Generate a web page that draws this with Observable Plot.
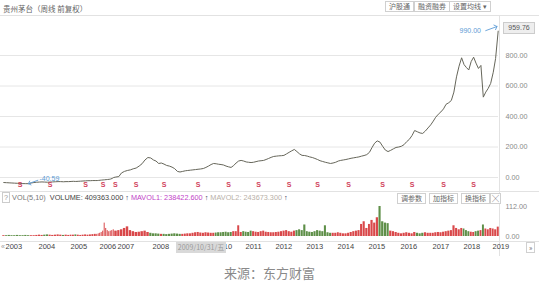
<!DOCTYPE html>
<html><head><meta charset="utf-8">
<script src="https://cdn.jsdelivr.net/npm/d3@7"></script>
<script src="https://cdn.jsdelivr.net/npm/@observablehq/plot@0.6"></script>
<style>
body{margin:0;background:#fff;font-family:"Liberation Sans","Noto Sans CJK SC",sans-serif;}
#wrap{position:relative;width:539px;height:287px;overflow:hidden;background:#fff;}
.abs{position:absolute;white-space:nowrap;}
.btn{position:absolute;border:1px solid #d0d0d0;background:#fff;color:#666;font-size:7px;line-height:9px;height:9px;padding:0 3px;font-family:"Noto Sans CJK SC",sans-serif;}
.hl{position:absolute;height:1px;background:#e2e2e2;}
.vl{position:absolute;width:1px;background:#e2e2e2;}
#price,#vol{position:absolute;left:0;}
#price{top:16px;} #vol{top:200px;}
#volinfo{position:absolute;left:2px;top:193px;font-size:7.3px;line-height:10px;color:#555;}
#tip{position:absolute;left:176px;top:242px;width:50px;height:11px;background:#d9d9d9;color:#9a9a9a;font-size:7px;line-height:11px;text-align:center;font-family:"Noto Sans CJK SC",sans-serif;}
#caption{position:absolute;left:0;width:539px;top:263px;text-align:center;font-size:13px;color:#8a8a8a;font-family:"Noto Sans CJK SC",sans-serif;}
#lastbox{position:absolute;left:503px;width:30px;height:10px;background:#eee;border:1px solid #ccc;color:#555;font-size:7px;line-height:10px;text-align:center;}
</style></head><body>
<div id="wrap">
  <div class="abs" style="left:3px;top:3px;font-size:7.5px;color:#666;font-family:'Noto Sans CJK SC',sans-serif;">贵州茅台（周线 前复权）</div>
  <div class="btn" style="left:385px;top:1px;">沪股通</div>
  <div class="btn" style="left:414px;top:1px;">融资融券</div>
  <div class="btn" style="left:449px;top:1px;">设置均线 ▾</div>
  <div class="hl" style="left:0;top:15px;width:539px;"></div>
  <div class="hl" style="left:0;top:191px;width:539px;"></div>
  <div class="hl" style="left:0;top:241px;width:539px;"></div>
  <div class="vl" style="left:499px;top:15px;height:241px;"></div>
  <div id="price"></div>
  <div id="vol"></div>
  <div id="volinfo"><span style="border:1px solid #ccc;color:#999;padding:0 1px;">?</span> <span style="color:#777">VOL(5,10)</span>&nbsp; <span style="color:#444">VOLUME: 409363.000</span> <span style="color:#335">↑</span> <span style="color:#c23fc8">MAVOL1: 238422.600</span> <span style="color:#335">↑</span> <span style="color:#b8b0a8">MAVOL2: 243673.300</span> <span style="color:#335">↑</span></div>
  <div class="btn" style="left:397px;top:193px;">调参数</div>
  <div class="btn" style="left:429px;top:193px;">加指标</div>
  <div class="btn" style="left:461px;top:193px;">换指标</div>
  <div class="btn" style="left:490px;top:193px;padding:0 1px;">╳</div>
  <div class="abs" style="left:1px;top:243px;font-size:7px;color:#999;">«</div>
  <div class="btn" style="left:526px;top:242px;padding:0 2px;">»</div>
  <div id="tip">2009/10/31/五</div>
  <div id="lastbox">959.76</div>
  <div id="caption">来源：东方财富</div>
</div>
<script>
// ---- data ----
const years = [2003,2004,2005,2006,2007,2008,2009,2010,2011,2012,2013,2014,2015,2016,2017,2018,2019];
// monthly close (forward-adjusted), Jan 2003 .. Apr 2019
const close = [
  -33,-34,-35,-36,-37,-38,-39,-40,-40.3,-40.59,-36,-33,          // 2003
  -31,-30,-29,-30,-31,-30,-29,-28,-27,-27,-28,-27,               // 2004
  -27,-26,-25,-26,-25,-24,-23,-22,-21,-21,-20,-20,               // 2005
  -20,-19,-18,-17,-16,-15,-14,-13,-12,-10,-6,0,                  // 2006
  3,6,30,40,46,50,57,62,75,90,115,131,                           // 2007
  128,115,108,92,95,88,79,75,68,58,40,36,                        // 2008
  40,44,46,48,50,52,54,56,59,66,75,85,                           // 2009
  92,90,87,85,82,75,70,66,78,95,108,112,                         // 2010
  108,102,100,98,100,104,108,110,112,118,125,132,                // 2011
  138,140,142,143,145,155,165,175,184,170,155,145,               // 2012
  144,140,135,131,125,118,110,105,100,96,92,95,                  // 2013
  100,108,112,115,118,122,126,129,132,135,140,144,               // 2014
  150,165,195,225,240,232,205,180,170,178,188,197,               // 2015
  200,205,215,235,250,275,308,300,292,289,305,325,               // 2016
  345,370,395,415,430,450,480,490,505,560,660,730,               // 2017
  785,740,722,705,760,789,750,715,735,527,560,584,               // 2018
  617,690,780,959.76                                             // 2019
];
// weekly-volume level per month (scale 0..112)
const volume = [
  3,3,4,3,3,4,3,3,4,3,3,3,
  4,5,4,5,6,5,4,5,6,5,4,5,
  4,5,5,6,5,4,5,6,5,6,7,8,
  8,10,12,15,20,50,30,22,18,20,22,25,
  20,22,25,30,36,22,18,15,16,18,20,15,
  12,10,10,9,8,8,7,8,9,10,9,8,
  8,9,10,10,12,14,15,13,12,14,13,12,
  12,13,14,14,15,16,14,15,18,18,40,15,
  18,16,15,20,18,16,15,18,20,16,15,14,
  14,15,16,18,20,22,18,16,20,22,25,22,
  43,18,16,15,18,22,20,18,40,14,12,12,
  12,14,12,10,10,12,15,18,20,22,45,55,
  30,45,60,50,70,112,55,50,48,20,18,15,
  12,10,12,14,12,10,15,12,10,12,14,12,
  12,12,14,15,14,16,18,20,22,40,30,25,
  30,28,22,18,16,15,18,20,22,43,28,25,
  30,28,25,35
];
const priceTicks = [0,200,400,600,800];
const volTicks = [0,112];
const dividendDates = ["2003-07-15","2004-06-15","2005-08-15","2006-05-15","2007-01-10","2007-08-15","2008-06-15","2009-07-15","2010-07-15","2011-07-15","2012-07-15","2013-06-15","2014-06-15","2015-07-15","2016-06-15","2017-06-15","2018-06-15"];
const lowMark = {date: "2003-10-15", value: -40.59, label: "-40.59"};
const highMark = {date: "2019-04-01", value: 990, label: "990.00"};
const lastClose = 959.76;

// ---- scale configuration (x: year breakpoints as laid out in the source axis) ----
const xBreakDates = [...years.map(y => new Date(Date.UTC(y,0,1))), new Date(Date.UTC(2019,4,1))];
const xBreakPx = [2,35,67,96,114,149,181,212,242,272,303,334,365,397,429,460,489,499];

const months = d3.utcMonth.range(new Date(Date.UTC(2003,0,1)), new Date(Date.UTC(2019,4,1)));
const rows = months.map((m,i) => ({
  start: m, mid: d3.utcDay.offset(m,14), end: d3.utcMonth.offset(m,1),
  close: close[i], volume: volume[i], up: i === 0 || close[i] >= close[i-1]
}));
const W = 539;
const font = "Liberation Sans, sans-serif";
const xOpt = {type: "utc", domain: xBreakDates, range: xBreakPx, axis: null};

const price = Plot.plot({
  width: W, height: 176, marginLeft: 0, marginRight: 41, marginTop: 0, marginBottom: 0,
  style: {background: "transparent", fontFamily: font, overflow: "visible"},
  x: xOpt,
  y: {domain: [0,800], range: [161,39], axis: null},
  marks: [
    Plot.gridY(priceTicks, {stroke: "#e6e6e6", strokeOpacity: 1}),
    Plot.axisY(priceTicks, {anchor: "right", label: null, tickSize: 0, tickPadding: 7, fontSize: 7.2, color: "#8a8a8a", tickFormat: d => d.toFixed(2)}),
    Plot.line(rows, {x: "mid", y: "close", stroke: "#66665a", strokeWidth: 1}),
    Plot.text(dividendDates, {x: d => new Date(d), frameAnchor: "bottom", dy: -6, text: () => "S", fill: "#d0415a", fontSize: 7, fontWeight: "bold"}),
    Plot.vector([lowMark], {x: d => new Date(d.date), y: "value", anchor: "end", rotate: 250, length: 10, stroke: "#5b9bd5", strokeWidth: 0.8}),
    Plot.text([lowMark], {x: d => new Date(d.date), y: "value", text: "label", dx: 11, dy: -5, textAnchor: "start", fill: "#5b9bd5", fontSize: 7}),
    Plot.vector([highMark], {x: d => new Date(d.date), y: "value", anchor: "end", rotate: 70, length: 12, stroke: "#5b9bd5", strokeWidth: 0.8}),
    Plot.text([highMark], {x: d => new Date(d.date), y: "value", text: "label", dx: -16, dy: 4, textAnchor: "end", fill: "#5b9bd5", fontSize: 7})
  ]
});
document.getElementById("price").appendChild(price);
// last-price box on the axis, placed by the y scale
const py = price.scale("y").apply(lastClose);
document.getElementById("lastbox").style.top = (16 + py - 9) + "px";

const vol = Plot.plot({
  width: W, height: 56, marginLeft: 0, marginRight: 41, marginTop: 0, marginBottom: 15,
  style: {background: "transparent", fontFamily: font, overflow: "visible"},
  x: xOpt,
  y: {domain: [0,112], range: [36,6], axis: null},
  marks: [
    Plot.rectY(rows, {x1: "start", x2: "end", y: "volume", fill: d => d.up ? "#d9484a" : "#5e8f48", insetLeft: 0.25, insetRight: 0.25}),
    Plot.axisY(volTicks, {anchor: "right", label: null, tickSize: 0, tickPadding: 7, fontSize: 7.2, color: "#8a8a8a", tickFormat: d => d.toFixed(2)}),
    Plot.axisX(xBreakDates.slice(0, years.length), {anchor: "bottom", label: null, tickSize: 0, tickPadding: 2.5, textAnchor: "start", dx: 3, fontSize: 7.5, color: "#444", tickFormat: d3.utcFormat("%Y")})
  ]
});
document.getElementById("vol").appendChild(vol);
</script>
</body></html>
